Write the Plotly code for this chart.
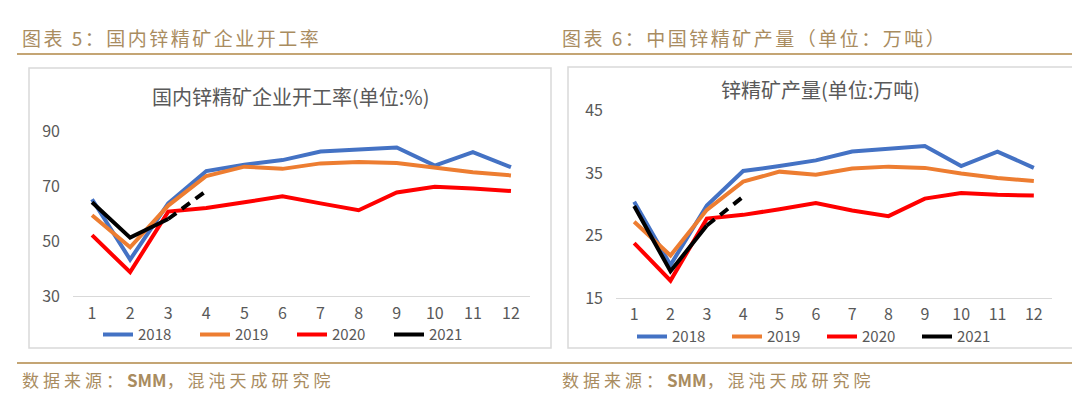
import plotly.graph_objects as go

months = list(range(1, 13))
tick_labels = [str(m) for m in months]

# Chart 5: operating rate (%)
rate_2018 = [65.4, 43.4, 63.9, 75.7, 78.0, 79.7, 82.8, 83.4, 84.3, 77.7, 82.6, 77.1]
rate_2019 = [59.6, 47.9, 63.1, 73.9, 77.3, 76.5, 78.5, 79.0, 78.6, 76.9, 75.3, 74.1]
rate_2020 = [52.3, 38.8, 60.9, 62.2, 64.3, 66.5, 63.9, 61.4, 67.9, 70.0, 69.3, 68.4]
rate_2021 = [64.3, 51.4, 58.2, 68.5]

# Chart 6: output (10k tonnes)
out_2018 = [30.4, 20.3, 29.8, 35.3, 36.1, 37.0, 38.4, 38.8, 39.3, 36.1, 38.4, 35.8]
out_2019 = [27.2, 21.8, 29.1, 33.6, 35.2, 34.7, 35.7, 36.0, 35.8, 34.9, 34.2, 33.7]
out_2020 = [23.8, 17.8, 27.7, 28.3, 29.2, 30.2, 29.0, 28.1, 30.9, 31.8, 31.5, 31.4]
out_2021 = [29.7, 19.3, 26.6, 31.2]

W, H = 1080, 397
def px(x): return x / W
def py(y): return 1 - y / H

COLORS = {"2018": "#4472C4", "2019": "#ED7D31", "2020": "#FF0000", "2021": "#000000"}
GOLD = "#a98c5f"
GREY = "#595959"
FONT = "Noto Sans CJK SC"
LW = 4

fig = go.Figure()

def add_set(series, xa, ya, leg):
    for name, vals in series:
        if name == "2021":
            fig.add_trace(go.Scatter(x=months[:3], y=vals[:3], mode="lines", name=name,
                                     line=dict(color=COLORS[name], width=LW),
                                     xaxis=xa, yaxis=ya, legend=leg))
            fig.add_trace(go.Scatter(x=months[2:len(vals)], y=vals[2:], mode="lines", name=name,
                                     line=dict(color=COLORS[name], width=LW, dash="10px,7px"),
                                     xaxis=xa, yaxis=ya, legend=leg, showlegend=False))
        else:
            fig.add_trace(go.Scatter(x=months, y=vals, mode="lines", name=name,
                                     line=dict(color=COLORS[name], width=LW),
                                     xaxis=xa, yaxis=ya, legend=leg))

add_set([("2018", rate_2018), ("2019", rate_2019), ("2020", rate_2020), ("2021", rate_2021)], "x", "y", "legend")
add_set([("2018", out_2018), ("2019", out_2019), ("2020", out_2020), ("2021", out_2021)], "x2", "y2", "legend2")

xcommon = dict(range=[0.5, 12.5], tickvals=months, ticktext=tick_labels, showgrid=False,
               zeroline=False, showline=True, linecolor="#d9d9d9", linewidth=1.2, ticks="",
               tickfont=dict(family=FONT, size=16, color=GREY), ticklabelstandoff=2)
ycommon = dict(showgrid=False, zeroline=False, showline=False, ticks="",
               tickfont=dict(family=FONT, size=16, color=GREY), ticklabelstandoff=12)

fig.update_layout(
    width=W, height=H, margin=dict(l=0, r=0, t=0, b=0),
    paper_bgcolor="white", plot_bgcolor="white",
    font=dict(family=FONT, color=GREY),
    xaxis=dict(domain=[px(65), px(522)], anchor="y", **xcommon),
    yaxis=dict(domain=[py(293), py(118)], range=[30, 90], tickvals=[30, 50, 70, 90], anchor="x", **ycommon),
    xaxis2=dict(domain=[px(608), px(1044)], anchor="y2", **xcommon),
    yaxis2=dict(domain=[py(295), py(95)], range=[15, 45], tickvals=[15, 25, 35, 45], anchor="x2", **ycommon),
    legend=dict(orientation="h", x=px(284), xanchor="center", y=py(334), yanchor="middle",
                font=dict(family=FONT, size=15, color=GREY), entrywidth=52, bgcolor="rgba(0,0,0,0)"),
    legend2=dict(orientation="h", x=px(814), xanchor="center", y=py(336), yanchor="middle",
                 font=dict(family=FONT, size=15, color=GREY), entrywidth=50, bgcolor="rgba(0,0,0,0)"),
    showlegend=True,
)

shapes = [
    dict(type="line", xref="paper", yref="paper", x0=px(9), x1=px(1072), y0=py(35), y1=py(35),
         line=dict(color="#c4a574", width=2)),
    dict(type="line", xref="paper", yref="paper", x0=px(9), x1=px(1072), y0=py(364), y1=py(364),
         line=dict(color="#c4a574", width=2)),
    dict(type="rect", xref="paper", yref="paper", x0=px(21), x1=px(543), y0=py(348), y1=py(50),
         line=dict(color="#d9d9d9", width=1.5)),
    dict(type="rect", xref="paper", yref="paper", x0=px(560), x1=px(1067), y0=py(348), y1=py(49),
         line=dict(color="#d9d9d9", width=1.5)),
]
fig.update_layout(shapes=shapes)

def ann(text, x, y, size, color, xanchor="left"):
    fig.add_annotation(text=text, x=px(x), y=py(y), xref="paper", yref="paper",
                       xanchor=xanchor, yanchor="middle", showarrow=False,
                       font=dict(family=FONT, size=size, color=color))

ann('<span style="letter-spacing:2.5px">图表 5：国内锌精矿企业开工率</span>', 12, 18, 19, GOLD)
ann('<span style="letter-spacing:2.5px">图表 6：中国锌精矿产量（单位：万吨）</span>', 552, 18, 19, GOLD)
ann('<span style="letter-spacing:4px">数据来源：</span><b>SMM</b><span style="letter-spacing:4px">，混沌天成研究院</span>', 12, 382, 17, GOLD)
ann('<span style="letter-spacing:4px">数据来源：</span><b>SMM</b><span style="letter-spacing:4px">，混沌天成研究院</span>', 552, 382, 17, GOLD)
ann("国内锌精矿企业开工率(单位:%)", 283, 80, 20, GREY, "center")
ann("锌精矿产量(单位:万吨)", 812, 73, 20, GREY, "center")

fig.write_html("out.html")
